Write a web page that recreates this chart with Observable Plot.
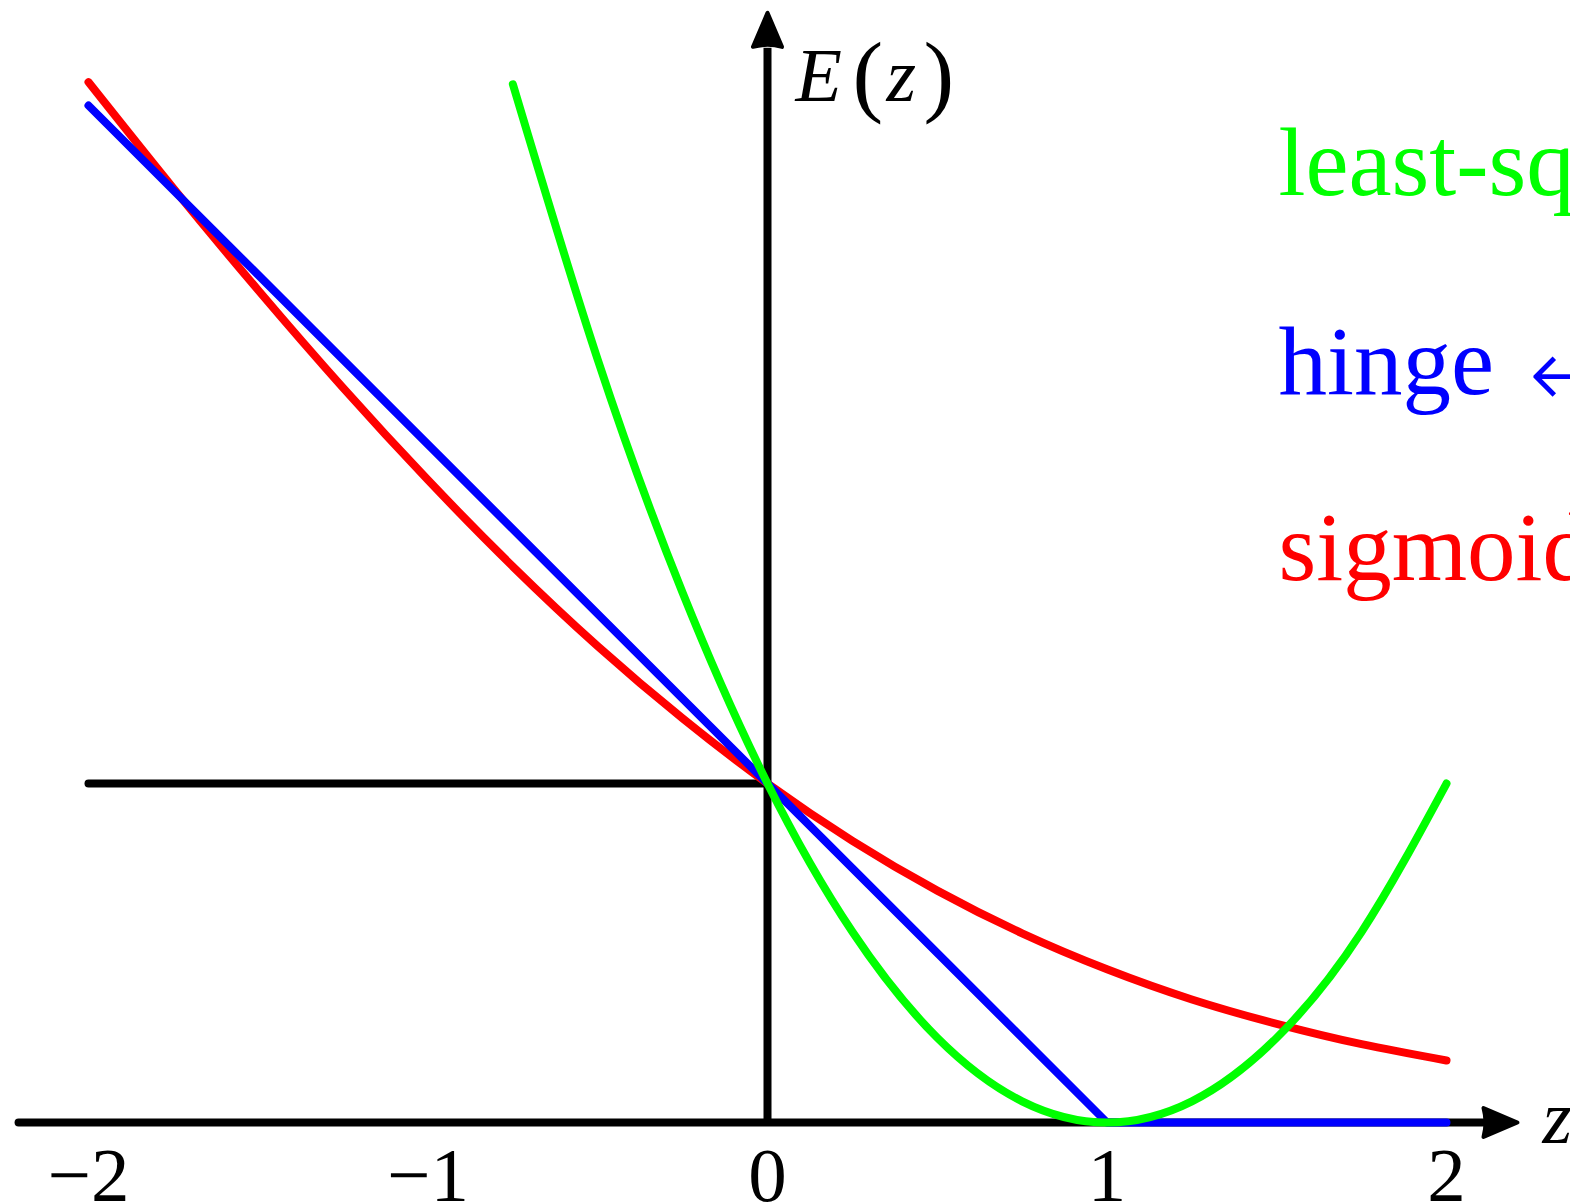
<!DOCTYPE html>
<html>
<head>
<meta charset="utf-8">
<script src="https://cdn.jsdelivr.net/npm/d3@7"></script>
<script src="https://cdn.jsdelivr.net/npm/@observablehq/plot@0.6"></script>
<style>
  html, body { margin: 0; padding: 0; background: #fff; overflow: hidden; }
  #chart svg { display: block; }
</style>
</head>
<body>
<div id="chart"></div>
<script>
// Error functions E(z) plotted against z = y·t

// sigmoid (logistic) error, rescaled so it passes through (0, 1)
const zSigmoid = [-2, -1.75, -1.5, -1.25, -1, -0.75, -0.5, -0.25, 0, 0.25, 0.5, 0.75, 1, 1.25, 1.5, 1.75, 2];
const eSigmoid = [3.069, 2.756, 2.455, 2.167, 1.895, 1.640, 1.405, 1.192, 1, 0.831, 0.684, 0.558, 0.452, 0.363, 0.291, 0.231, 0.183];

// squared error
const zSquare = [-0.75, -0.5, -0.25, 0, 0.25, 0.5, 0.75, 1, 1.25, 1.5, 1.75, 2];
const eSquare = [3.0625, 2.25, 1.5625, 1, 0.5625, 0.25, 0.0625, 0, 0.0625, 0.25, 0.5625, 1];

// hinge error (piecewise linear)
const zHinge = [-2, 1, 2];
const eHinge = [3, 0, 0];

// misclassification error (step)
const zStep = [-2, 0];
const eStep = [1, 1];

const xTicks = [-2, -1, 0, 1, 2];

const seriesNames = ["least-squares", "hinge", "sigmoid"];
const hingeNote = "\u2190 SVM";
const seriesColors = ["#00ff00", "#0000ff", "#ff0000"];

const pts = (zs, es) => zs.map((z, i) => ({z, e: es[i]}));

const serif = "'Liberation Serif', 'DejaVu Serif', serif";
const lw = 8;

// filled arrowhead used at the ends of both axes
function arrowHead(color) {
  const ns = "http://www.w3.org/2000/svg";
  const m = document.createElementNS(ns, "marker");
  m.setAttribute("viewBox", "-6 -22 50 44");
  m.setAttribute("markerWidth", "50");
  m.setAttribute("markerHeight", "44");
  m.setAttribute("markerUnits", "userSpaceOnUse");
  m.setAttribute("refX", "0");
  m.setAttribute("refY", "0");
  m.setAttribute("orient", "auto");
  const p = document.createElementNS(ns, "path");
  p.setAttribute("d", "M35,0 L1,-14.5 Q5,0 1,14.5 Z");
  p.setAttribute("fill", color);
  p.setAttribute("stroke", color);
  p.setAttribute("stroke-width", "4");
  p.setAttribute("stroke-linejoin", "round");
  m.appendChild(p);
  return m;
}

const lineOpts = (color) => ({
  x: "z", y: "e", stroke: color, strokeWidth: lw,
  strokeLinecap: "round", strokeLinejoin: "round"
});

const label = (s, opts) => Plot.text([s], {
  text: d => d, textAnchor: "start", lineAnchor: "bottom", fontFamily: serif, ...opts
});

const chart = Plot.plot({
  width: 1570,
  height: 1204,
  marginLeft: 88,
  marginRight: 124,
  marginTop: 105,
  marginBottom: 82,
  x: {domain: [-2, 2], axis: null},
  y: {domain: [0, 3], axis: null},
  style: {background: "#fff", color: "#000"},
  marks: [
    // horizontal axis with arrow
    Plot.line([{z: -2.206, e: 0}, {z: 2.106, e: 0}], {
      ...lineOpts("#000"), markerEnd: arrowHead
    }),
    // vertical axis with arrow
    Plot.line([{z: 0, e: 0}, {z: 0, e: 3.17}], {
      ...lineOpts("#000"), strokeLinecap: "butt", markerEnd: arrowHead
    }),
    Plot.axisX({
      ticks: xTicks, tickSize: 0, tickPadding: 24, label: null,
      tickFormat: d => (d < 0 ? "\u2212" : "") + Math.abs(d),
      fontSize: 77, fontFamily: serif
    }),
    // step (misclassification) error
    Plot.line(pts(zStep, eStep), lineOpts("#000")),
    // sigmoid error
    Plot.line(pts(zSigmoid, eSigmoid), {...lineOpts(seriesColors[2]), curve: "natural"}),
    // hinge error
    Plot.line(pts(zHinge, eHinge), lineOpts(seriesColors[1])),
    // squared error
    Plot.line(pts(zSquare, eSquare), {...lineOpts(seriesColors[0]), curve: "natural"}),

    // axis titles
    label("E", {x: () => 0, y: () => 3, dx: 28, dy: -5, fontSize: 76, fontStyle: "italic"}),
    label("(", {x: () => 0, y: () => 3, dx: 85, dy: -1, fontSize: 92}),
    label("z", {x: () => 0, y: () => 3, dx: 119, dy: -5, fontSize: 76, fontStyle: "italic"}),
    label(")", {x: () => 0, y: () => 3, dx: 156, dy: -1, fontSize: 92}),
    label("z", {x: () => 2, y: () => 0, dx: 96, dy: 20, fontSize: 76, fontStyle: "italic"}),

    // series labels
    label(seriesNames[0], {x: () => 1.505, y: () => 2.735, fill: seriesColors[0], fontSize: 97}),
    label(seriesNames[1], {x: () => 1.505, y: () => 2.150, fill: seriesColors[1], fontSize: 97}),
    label(hingeNote, {x: () => 1.505, y: () => 2.150, dx: 250, dy: 14, fill: seriesColors[1], fontSize: 100, fontFamily: "'DejaVu Sans', sans-serif", fontWeight: 200}),
    label(seriesNames[2], {x: () => 1.505, y: () => 1.599, fill: seriesColors[2], fontSize: 97})
  ]
});

document.getElementById("chart").appendChild(chart);
</script>
</body>
</html>
